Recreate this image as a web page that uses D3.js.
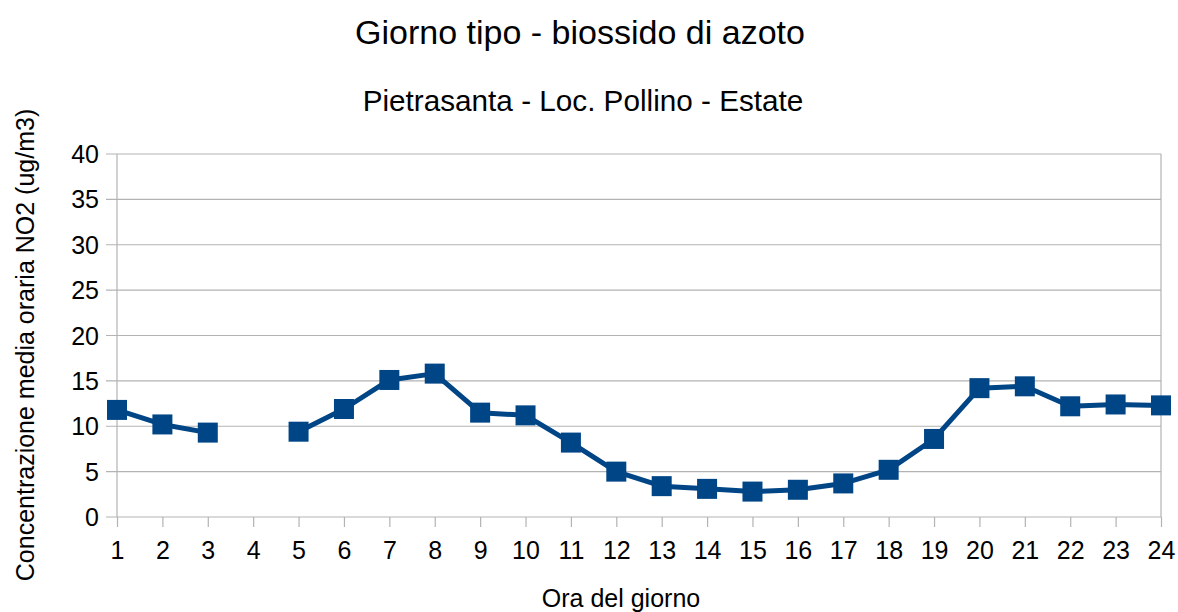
<!DOCTYPE html>
<html>
<head>
<meta charset="utf-8">
<script src="https://cdn.jsdelivr.net/npm/d3@7"></script>
<style>
  body { margin: 0; background: #fff; }
  text { font-family: "Liberation Sans", Arial, sans-serif; fill: #000; }
</style>
</head>
<body>
<svg id="chart" width="1178" height="612"></svg>
<script>
var hours = ["1","2","3","4","5","6","7","8","9","10","11","12","13","14","15","16","17","18","19","20","21","22","23","24"];
var no2 = [11.8, 10.2, 9.3, null, 9.4, 11.9, 15.1, 15.8, 11.5, 11.2, 8.2, 5.0, 3.4, 3.1, 2.8, 3.0, 3.7, 5.2, 8.6, 14.2, 14.4, 12.2, 12.4, 12.3];
var yTicks = [0, 5, 10, 15, 20, 25, 30, 35, 40];

var margin = {top: 154, right: 17, bottom: 95, left: 117},
    width = 1178 - margin.left - margin.right,
    height = 612 - margin.top - margin.bottom;

var svg = d3.select("#chart");
var g = svg.append("g")
    .attr("transform", "translate(" + margin.left + "," + margin.top + ")");

var x = d3.scalePoint().domain(hours).range([0, width]),
    y = d3.scaleLinear().domain([0, 40]).range([height, 0]);

// gridlines
g.append("g")
    .selectAll("line")
    .data(yTicks)
    .enter().append("line")
      .attr("x1", -11).attr("x2", width)
      .attr("y1", function(d) { return y(d); })
      .attr("y2", function(d) { return y(d); })
      .attr("stroke", "#b3b3b3").attr("stroke-width", 1.2);

g.append("line")
    .attr("x1", 0).attr("x2", 0).attr("y1", 0).attr("y2", height)
    .attr("stroke", "#b3b3b3").attr("stroke-width", 1.2);
g.append("line")
    .attr("x1", width).attr("x2", width).attr("y1", 0).attr("y2", height)
    .attr("stroke", "#b3b3b3").attr("stroke-width", 1.2);

// y tick labels
g.append("g")
    .selectAll("text")
    .data(yTicks)
    .enter().append("text")
      .attr("x", -18)
      .attr("y", function(d) { return y(d); })
      .attr("dy", "0.36em")
      .attr("text-anchor", "end")
      .style("font-size", "25px")
      .text(function(d) { return d; });

// x axis
var xAxis = g.append("g")
    .attr("transform", "translate(0," + height + ")")
    .call(d3.axisBottom(x).tickSize(10).tickSizeOuter(0).tickPadding(14));
xAxis.select(".domain").remove();
xAxis.selectAll(".tick line").attr("stroke", "#b3b3b3").attr("stroke-width", 1.2);
xAxis.selectAll(".tick text")
    .style("font-size", "25px")
    .style("font-family", "Liberation Sans, Arial, sans-serif")
    .attr("fill", "#000");

// line with gap
var line = d3.line()
    .defined(function(d) { return d.v != null; })
    .x(function(d) { return x(d.h); })
    .y(function(d) { return y(d.v); });

var data = hours.map(function(h, i) { return {h: h, v: no2[i]}; });

g.append("path")
    .datum(data)
    .attr("fill", "none")
    .attr("stroke", "#004586")
    .attr("stroke-width", 5)
    .attr("stroke-linejoin", "round")
    .attr("d", line);

g.selectAll(".pt")
    .data(data.filter(function(d) { return d.v != null; }))
    .enter().append("rect")
      .attr("class", "pt")
      .attr("x", function(d) { return x(d.h) - 10; })
      .attr("y", function(d) { return y(d.v) - 10; })
      .attr("width", 20)
      .attr("height", 20)
      .attr("fill", "#004586");

// titles
svg.append("text")
    .attr("x", 580).attr("y", 44)
    .attr("text-anchor", "middle")
    .style("font-size", "34px")
    .text("Giorno tipo - biossido di azoto");

svg.append("text")
    .attr("x", 583).attr("y", 111)
    .attr("text-anchor", "middle")
    .style("font-size", "29.7px")
    .text("Pietrasanta - Loc. Pollino - Estate");

svg.append("text")
    .attr("x", 621).attr("y", 607)
    .attr("text-anchor", "middle")
    .style("font-size", "25px")
    .text("Ora del giorno");

svg.append("text")
    .attr("transform", "translate(34,345) rotate(-90)")
    .attr("text-anchor", "middle")
    .style("font-size", "25px")
    .text("Concentrazione media oraria NO2 (ug/m3)");
</script>
</body>
</html>
